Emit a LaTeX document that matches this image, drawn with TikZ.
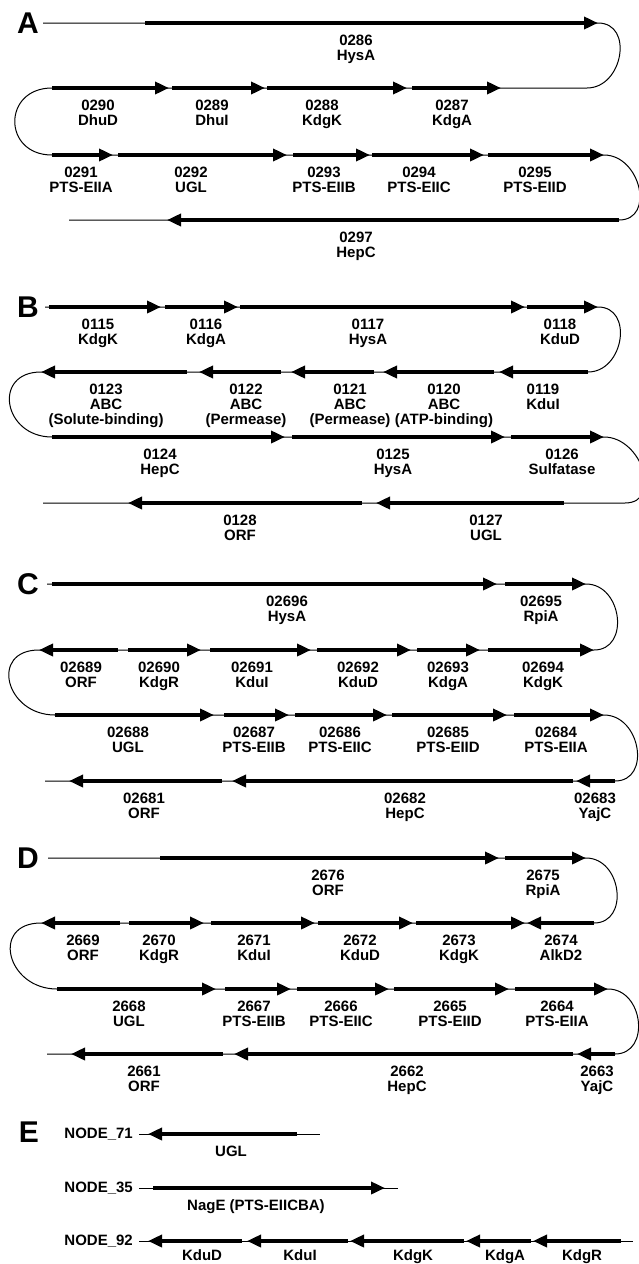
\documentclass[tikz,border=0pt]{standalone}
\usepackage{fontspec}
\setmainfont{Liberation Sans}
\usepackage{tikz}
\usetikzlibrary{arrows.meta}

\begin{document}
\begin{tikzpicture}[
  x=1pt, y=-1pt,
  lab/.style={font=\fontsize{15}{15}\selectfont\bfseries, align=center,
              anchor=north, inner sep=0pt, yshift=-11.5pt},
  panel/.style={font=\fontsize{30}{30}\selectfont\bfseries, inner sep=0pt},
  tag/.style={font=\fontsize{15}{15}\selectfont\bfseries, inner sep=0pt, anchor=east},
  bb/.style={line width=1pt},
  gene/.style={line width=4.5pt, -{Triangle[length=14pt, width=12pt]}},
  rturn/.style={out=0, in=0, looseness=1.4},
  lturn/.style={out=180, in=180, looseness=1.9}
]
\useasboundingbox (0,0) rectangle (638,1264);

% ---- A
\node[panel] (pA) at (28,23) {A};
\draw[bb] (43,23) -- (598,23) to[rturn] (587,88) -- (52,88) to[lturn] (52,155)
  -- (604,155) to[rturn] (619,220) -- (69,220);
\draw[gene] (145,23) -- (598,23);
\node[lab] (a0286) at (356,23) {0286\\HysA};
\draw[gene] (52,88) -- (169,88);
\node[lab] (a0290) at (98,88) {0290\\DhuD};
\draw[gene] (172,88) -- (265,88);
\node[lab] (a0289) at (212,88) {0289\\DhuI};
\draw[gene] (267,88) -- (407,88);
\node[lab] (a0288) at (322,88) {0288\\KdgK};
\draw[gene] (412,88) -- (501,88);
\node[lab] (a0287) at (452,88) {0287\\KdgA};
\draw[gene] (52,155) -- (113,155);
\node[lab] (a0291) at (81,155) {0291\\PTS-EIIA};
\draw[gene] (118,155) -- (287,155);
\node[lab] (a0292) at (191,155) {0292\\UGL};
\draw[gene] (293,155) -- (370,155);
\node[lab] (a0293) at (324,155) {0293\\PTS-EIIB};
\draw[gene] (372,155) -- (484,155);
\node[lab] (a0294) at (419,155) {0294\\PTS-EIIC};
\draw[gene] (488,155) -- (604,155);
\node[lab] (a0295) at (535,155) {0295\\PTS-EIID};
\draw[gene] (619,220) -- (167,220);
\node[lab] (a0297) at (356,220) {0297\\HepC};

% ---- B
\node[panel] (pB) at (28,307) {B};
\draw[bb] (45,307) -- (598,307) to[rturn] (588,372) -- (41,372) to[lturn] (52,437)
  -- (604,437) to[rturn] (625,503) -- (43,503);
\draw[gene] (49,307) -- (161,307);
\node[lab] (b0115) at (98,307) {0115\\KdgK};
\draw[gene] (165,307) -- (238,307);
\node[lab] (b0116) at (206,307) {0116\\KdgA};
\draw[gene] (240,307) -- (525,307);
\node[lab] (b0117) at (368,307) {0117\\HysA};
\draw[gene] (527,307) -- (598,307);
\node[lab] (b0118) at (560,307) {0118\\KduD};
\draw[gene] (588,372) -- (499,372);
\node[lab] (b0119) at (543,372) {0119\\KduI};
\draw[gene] (494,372) -- (383,372);
\node[lab] (b0120) at (444,372) {0120\\ABC\\(ATP-binding)};
\draw[gene] (374,372) -- (291,372);
\node[lab] (b0121) at (350,372) {0121\\ABC\\(Permease)};
\draw[gene] (281,372) -- (199,372);
\node[lab] (b0122) at (246,372) {0122\\ABC\\(Permease)};
\draw[gene] (187,372) -- (41,372);
\node[lab] (b0123) at (106,372) {0123\\ABC\\(Solute-binding)};
\draw[gene] (52,437) -- (285,437);
\node[lab] (b0124) at (160,437) {0124\\HepC};
\draw[gene] (292,437) -- (505,437);
\node[lab] (b0125) at (393,437) {0125\\HysA};
\draw[gene] (511,437) -- (604,437);
\node[lab] (b0126) at (562,437) {0126\\Sulfatase};
\draw[gene] (564,503) -- (376,503);
\node[lab] (b0127) at (486,503) {0127\\UGL};
\draw[gene] (362,503) -- (128,503);
\node[lab] (b0128) at (240,503) {0128\\ORF};

% ---- C
\node[panel] (pC) at (28,584) {C};
\draw[bb] (47,584) -- (586,584) to[rturn] (594,650) -- (39,650) to[lturn] (55,715)
  -- (604,715) to[rturn] (615,781) -- (45,781);
\draw[gene] (52,584) -- (497,584);
\node[lab] (c02696) at (287,584) {02696\\HysA};
\draw[gene] (505,584) -- (586,584);
\node[lab] (c02695) at (541,584) {02695\\RpiA};
\draw[gene] (118,650) -- (39,650);
\node[lab] (c02689) at (81,650) {02689\\ORF};
\draw[gene] (128,650) -- (201,650);
\node[lab] (c02690) at (159,650) {02690\\KdgR};
\draw[gene] (210,650) -- (311,650);
\node[lab] (c02691) at (252,650) {02691\\KduI};
\draw[gene] (317,650) -- (411,650);
\node[lab] (c02692) at (358,650) {02692\\KduD};
\draw[gene] (417,650) -- (480,650);
\node[lab] (c02693) at (448,650) {02693\\KdgA};
\draw[gene] (488,650) -- (594,650);
\node[lab] (c02694) at (543,650) {02694\\KdgK};
\draw[gene] (55,715) -- (214,715);
\node[lab] (c02688) at (128,715) {02688\\UGL};
\draw[gene] (224,715) -- (289,715);
\node[lab] (c02687) at (254,715) {02687\\PTS-EIIB};
\draw[gene] (295,715) -- (387,715);
\node[lab] (c02686) at (340,715) {02686\\PTS-EIIC};
\draw[gene] (392,715) -- (507,715);
\node[lab] (c02685) at (448,715) {02685\\PTS-EIID};
\draw[gene] (514,715) -- (604,715);
\node[lab] (c02684) at (556,715) {02684\\PTS-EIIA};
\draw[gene] (615,781) -- (576,781);
\node[lab] (c02683) at (595,781) {02683\\YajC};
\draw[gene] (573,781) -- (232,781);
\node[lab] (c02682) at (405,781) {02682\\HepC};
\draw[gene] (222,781) -- (69,781);
\node[lab] (c02681) at (144,781) {02681\\ORF};

% ---- D
\node[panel] (pD) at (28,858) {D};
\draw[bb] (48,858) -- (586,858) to[rturn] (594,923) -- (41,923) to[lturn] (57,989)
  -- (608,989) to[rturn] (615,1054) -- (47,1054);
\draw[gene] (160,858) -- (499,858);
\node[lab] (d2676) at (328,858) {2676\\ORF};
\draw[gene] (505,858) -- (586,858);
\node[lab] (d2675) at (543,858) {2675\\RpiA};
\draw[gene] (120,923) -- (41,923);
\node[lab] (d2669) at (83,923) {2669\\ORF};
\draw[gene] (129,923) -- (204,923);
\node[lab] (d2670) at (159,923) {2670\\KdgR};
\draw[gene] (211,923) -- (315,923);
\node[lab] (d2671) at (254,923) {2671\\KduI};
\draw[gene] (318,923) -- (413,923);
\node[lab] (d2672) at (360,923) {2672\\KduD};
\draw[gene] (416,923) -- (525,923);
\node[lab] (d2673) at (459,923) {2673\\KdgK};
\draw[gene] (594,923) -- (527,923);
\node[lab] (d2674) at (561,923) {2674\\AlkD2};
\draw[gene] (57,989) -- (216,989);
\node[lab] (d2668) at (129,989) {2668\\UGL};
\draw[gene] (225,989) -- (291,989);
\node[lab] (d2667) at (254,989) {2667\\PTS-EIIB};
\draw[gene] (297,989) -- (389,989);
\node[lab] (d2666) at (341,989) {2666\\PTS-EIIC};
\draw[gene] (394,989) -- (509,989);
\node[lab] (d2665) at (450,989) {2665\\PTS-EIID};
\draw[gene] (515,989) -- (608,989);
\node[lab] (d2664) at (557,989) {2664\\PTS-EIIA};
\draw[gene] (615,1054) -- (577,1054);
\node[lab] (d2663) at (597,1054) {2663\\YajC};
\draw[gene] (573,1054) -- (234,1054);
\node[lab] (d2662) at (407,1054) {2662\\HepC};
\draw[gene] (223,1054) -- (71,1054);
\node[lab] (d2661) at (144,1054) {2661\\ORF};

% ---- E
\node[panel] (pE) at (29,1132) {E};
\node[tag] (n71) at (133,1134) {NODE\_71};
\draw[bb] (n71.east) ++(6,0) -- (320,1134);
\draw[gene] (297,1134) -- (148,1134);
\node[lab] (eugl) at (231,1134) {UGL};
\node[tag] (n35) at (133,1188) {NODE\_35};
\draw[bb] (n35.east) ++(6,0) -- (398,1188);
\draw[gene] (153,1188) -- (385,1188);
\node[lab] (enag) at (256,1188) {NagE (PTS-EIICBA)};
\node[tag] (n92) at (133,1241) {NODE\_92};
\draw[bb] (n92.east) ++(6,0) -- (633,1241);
\draw[gene] (242,1241) -- (148,1241);
\node[lab, yshift=3pt] (ekdud) at (202,1241) {KduD};
\draw[gene] (348,1241) -- (247,1241);
\node[lab, yshift=3pt] (ekdui) at (300,1241) {KduI};
\draw[gene] (464,1241) -- (350,1241);
\node[lab, yshift=3pt] (ekdgk) at (413,1241) {KdgK};
\draw[gene] (531,1241) -- (466,1241);
\node[lab, yshift=3pt] (ekdga) at (505,1241) {KdgA};
\draw[gene] (621,1241) -- (533,1241);
\node[lab, yshift=3pt] (ekdgr) at (582,1241) {KdgR};
\end{tikzpicture}
\end{document}
